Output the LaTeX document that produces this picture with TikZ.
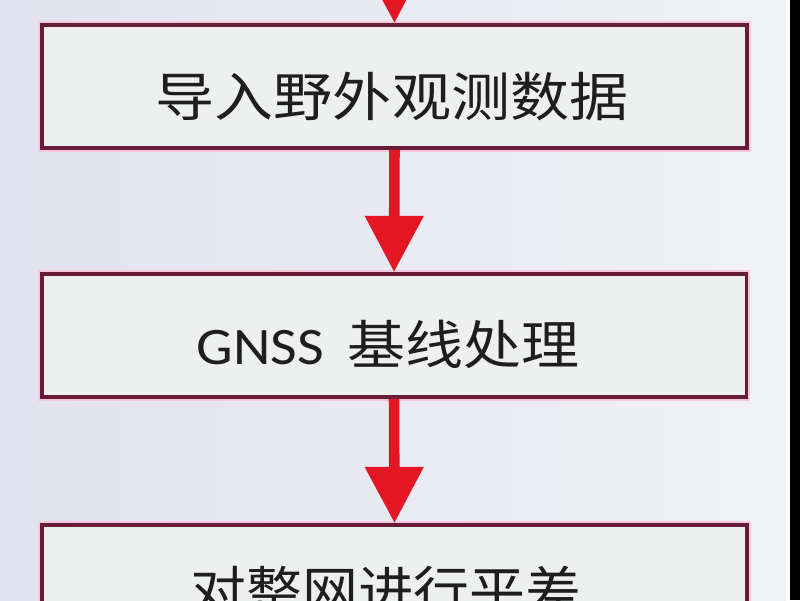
\documentclass[tikz,border=0pt]{standalone}
\usepackage{graphicx}
\usepackage{fontspec}
\setmainfont{Carlito}
\newfontfamily\cjk{Noto Sans CJK SC}
\usetikzlibrary{arrows.meta}

\definecolor{bgleft}{RGB}{226,226,240}
\definecolor{bgright}{RGB}{240,242,243}
\definecolor{boxline}{RGB}{105,28,55}
\definecolor{boxhalo}{RGB}{246,200,220}
\definecolor{boxfill}{RGB}{238,240,240}
\definecolor{arrowred}{RGB}{228,22,36}
\definecolor{textgray}{RGB}{30,30,30}

\begin{document}
\begin{tikzpicture}[x=0.02cm, y=-0.02cm,
  stepbox/.style={rectangle, draw=boxline, line width=2.2pt, fill=boxfill,
                  preaction={draw=boxhalo, line width=4.5pt},
                  minimum width=14.1cm, minimum height=2.46cm},
  steptext/.style={text=textgray, font=\fontsize{30pt}{36pt}\selectfont, inner sep=0pt},
  flow/.style={draw=arrowred, line width=6pt, -{Triangle[width=32pt, length=32pt]}}]

  \useasboundingbox (0,0) rectangle (800,600);

  % background
  \fill[left color=bgleft, right color=bgright] (0,0) rectangle (786,600);
  \fill[white] (786,0) rectangle (790,600);
  \fill[black] (790,0) rectangle (800,600);

  % boxes
  \node[stepbox] (import) at (394.5,86.5) {};
  \node[steptext] (importlbl) at (392,97)
        {\scalebox{1.12}[1]{\cjk 导入野外观测数据}};

  \node[stepbox] (baseline) at (394,335.5) {};
  \node[steptext] (baselinelbl) at (388,344)
        {\scalebox{1.1}[1]{GNSS\hspace{12pt}{\cjk 基线处理}}};

  \node[stepbox] (adjust) at (394.5,586.5) {};
  \node[steptext, anchor=north] (adjustlbl) at (386,566)
        {\scalebox{1.06}[1]{\cjk 对整网进行平差}};

  % arrows
  \coordinate (prev) at (394,-60);
  \draw[flow] (prev) -- (import.north);
  \draw[flow] (import.south) -- (baseline.north);
  \draw[flow] (baseline.south) -- (adjust.north);

\end{tikzpicture}
\end{document}
